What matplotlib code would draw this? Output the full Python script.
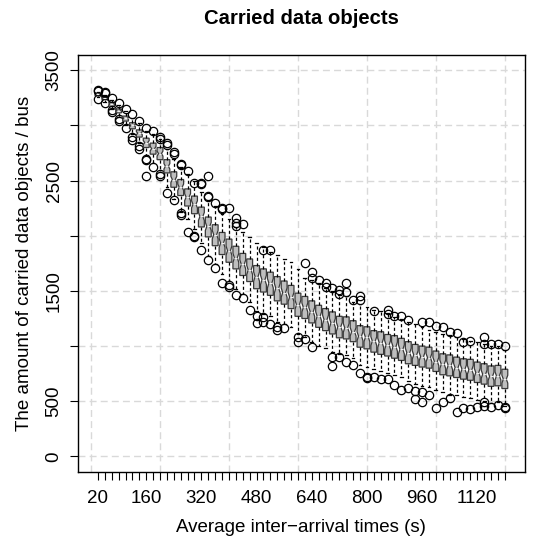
import numpy as np
import matplotlib
matplotlib.use('Agg')
import matplotlib.pyplot as plt

plt.rcParams['font.family'] = ['Liberation Sans', 'DejaVu Sans']

# Inter-arrival times (s): 20, 40, ..., 1200
times = list(range(20, 1201, 20))
shown_labels = ['20', '160', '320', '480', '640', '800', '960', '1120']

med = [3285, 3250, 3195, 3135, 3065, 3000, 2930, 2845, 2790, 2745,
       2630, 2510, 2440, 2350, 2285, 2175, 2085, 2010, 1935, 1865,
       1800, 1740, 1690, 1630, 1600, 1570, 1525, 1485, 1445, 1375,
       1350, 1310, 1270, 1240, 1210, 1175, 1165, 1130, 1090, 1080,
       1045, 1030, 1010, 995, 970, 940, 920, 905, 895, 860,
       835, 825, 805, 790, 785, 760, 745, 725, 730, 700]
q1 = [3270, 3235, 3175, 3115, 3040, 2970, 2895, 2800, 2740, 2690,
      2570, 2440, 2365, 2270, 2200, 2080, 1990, 1910, 1830, 1760,
      1700, 1640, 1585, 1520, 1490, 1460, 1410, 1380, 1340, 1270,
      1250, 1210, 1170, 1140, 1110, 1075, 1065, 1040, 990, 975,
      945, 925, 910, 890, 870, 840, 825, 810, 800, 770,
      740, 730, 715, 700, 690, 670, 655, 635, 640, 615]
q3 = [3295, 3262, 3210, 3150, 3085, 3025, 2960, 2885, 2840, 2800,
      2690, 2580, 2510, 2425, 2360, 2260, 2170, 2100, 2030, 1970,
      1905, 1840, 1790, 1730, 1700, 1670, 1630, 1590, 1550, 1480,
      1450, 1410, 1370, 1340, 1310, 1270, 1265, 1230, 1185, 1175,
      1140, 1130, 1105, 1095, 1070, 1040, 1015, 1000, 990, 955,
      930, 920, 900, 885, 880, 855, 840, 820, 825, 790]
wlo = [3255, 3215, 3150, 3080, 3000, 2920, 2840, 2730, 2660, 2580,
       2440, 2330, 2220, 2150, 2060, 1930, 1820, 1740, 1650, 1590,
       1520, 1470, 1400, 1320, 1290, 1270, 1220, 1200, 1170, 1110,
       1080, 1040, 1000, 980, 950, 930, 920, 890, 830, 810,
       790, 770, 760, 740, 720, 680, 660, 640, 630, 600,
       580, 560, 560, 540, 530, 510, 500, 480, 490, 460]
whi = [3305, 3280, 3235, 3190, 3130, 3070, 3020, 2950, 2920, 2880,
       2790, 2700, 2620, 2560, 2500, 2400, 2320, 2270, 2200, 2150,
       2080, 2030, 1990, 1930, 1900, 1850, 1830, 1790, 1760, 1700,
       1620, 1600, 1570, 1530, 1500, 1460, 1450, 1400, 1380, 1350,
       1330, 1320, 1300, 1260, 1250, 1220, 1200, 1170, 1150, 1130,
       1110, 1100, 1080, 1060, 1050, 1040, 1020, 1000, 1000, 960]
outliers = [
    [3320, 3310, 3240], [3300, 3290, 3200], [3250, 3140, 3120], [3200, 3060, 3040],
    [3150, 2980], [3100, 2900, 2870], [3040, 2810, 2790], [2980, 2700, 2690, 2540],
    [2950, 2620], [2900, 2880, 2560, 2540], [2840, 2820, 2390], [2760, 2740, 2320],
    [2650, 2640, 2210, 2190], [2590, 2030], [2480, 2000, 1990], [2480, 2470, 1870],
    [2540, 2360, 2350, 1780], [2300, 1710], [2250, 2240, 1570], [2250, 1540, 1550],
    [2160, 2120, 2090, 1460], [2110, 1440], [1330], [1270, 1210],
    [1870, 1260, 1220], [1870, 1200], [1170, 1150], [1160],
    [], [1080, 1040], [1750, 1060], [1670, 1620, 990],
    [1600], [1570, 1540], [1530, 900, 820], [1510, 1470, 900],
    [1570, 1490, 860], [1420, 830], [1450, 1420, 760], [720, 710],
    [1320, 720], [700], [1330, 1290, 700], [1270, 650],
    [1270, 600], [1240, 620], [590, 520], [1220, 580, 490],
    [1220, 560], [1180, 440], [1170, 490], [1130, 530],
    [1120, 400], [1040, 440], [1050, 430], [450],
    [1080, 1020, 490, 460], [1020, 450], [1020, 470], [1000, 450, 440],
]
n_runs = 60

stats = []
for i in range(len(times)):
    iqr = q3[i] - q1[i]
    half = 1.58 * iqr / np.sqrt(n_runs)
    stats.append(dict(med=med[i], q1=q1[i], q3=q3[i], whislo=wlo[i], whishi=whi[i],
                      fliers=outliers[i], cilo=med[i] - half, cihi=med[i] + half))

fig = plt.figure(figsize=(5.45, 5.38), dpi=100)
ax = fig.add_axes([0.143, 0.123, 0.820, 0.775])

# dashed light grid behind the boxes
for v in range(0, 3501, 500):
    ax.axhline(v, color='#D9D9D9', ls=(0, (5, 3)), lw=1, zorder=0)
for v in range(0, 61, 10):
    ax.axvline(v, color='#D9D9D9', ls=(0, (5, 3)), lw=1, zorder=0)

positions = np.arange(1, len(times) + 1)
ax.bxp(stats, positions=positions, widths=0.85, shownotches=True, patch_artist=True,
       capwidths=0.4,
       boxprops=dict(facecolor='#BEBEBE', edgecolor='#3a3a3a', lw=0.9),
       medianprops=dict(color='#f0f0f0', lw=0.9),
       whiskerprops=dict(color='black', lw=0.9, ls=(0, (2.5, 2))),
       capprops=dict(color='black', lw=0.9),
       flierprops=dict(marker='o', mfc='none', mec='black', ms=6, mew=0.9))

ax.set_xlim(-1.9, 62.9)
ax.set_ylim(-140, 3640)

xlabels = [str(t) if str(t) in shown_labels else '' for t in times]
ax.set_xticks(positions)
ax.set_xticklabels(xlabels, fontsize=13.5)
ax.set_yticks(range(0, 3501, 500))
ax.set_yticklabels([str(v) if v in (0, 500, 1500, 2500, 3500) else '' for v in range(0, 3501, 500)],
                   fontsize=13.5, rotation=90, va='center')
ax.tick_params(direction='out', length=6, width=0.8, colors='black')
ax.tick_params(axis='x', pad=7)
ax.tick_params(axis='y', pad=5)
for s in ax.spines.values():
    s.set_linewidth(1)

ax.set_xlabel('Average inter\u2212arrival times (s)', fontsize=13.5, labelpad=9)
ax.set_ylabel('The amount of carried data objects / bus', fontsize=13.5, labelpad=9)
ax.set_title('Carried data objects', fontsize=14.6, fontweight='bold', pad=22)

plt.savefig('out.png', dpi=100)
